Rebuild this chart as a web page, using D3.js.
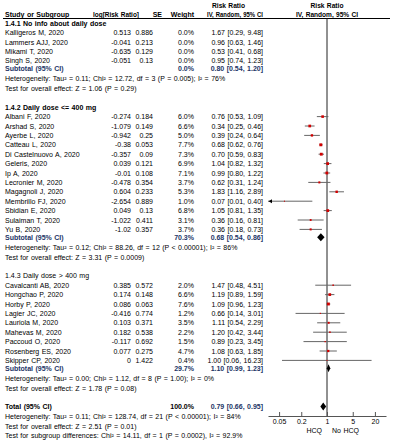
<!DOCTYPE html>
<html>
<head>
<meta charset="utf-8">
<script src="https://cdn.jsdelivr.net/npm/d3@7"></script>
<style>
  body { margin: 0; background: #fff; }
  text { font-family: "Liberation Sans", Arial, sans-serif; font-size: 7px; fill: #000; word-spacing: 0.5px; }
</style>
</head>
<body>
<div id="forest"></div>
<script>
// subgroup 1.4.1
const g1Names = ['Kalligeros M, 2020', 'Lammers AJJ, 2020', 'Mikami T, 2020', 'Singh S, 2020']
const g1LogRR = [0.513, -0.041, -0.635, -0.051]
const g1SE = [0.886, 0.213, 0.129, 0.13]
const g1Weight = [0, 0, 0, 0]
const g1RR = [1.67, 0.96, 0.53, 0.95]
const g1Lo = [0.29, 0.63, 0.41, 0.74]
const g1Hi = [9.48, 1.46, 0.68, 1.23]

// subgroup 1.4.2
const g2Names = ['Albani F, 2020', 'Arshad S, 2020', 'Ayerbe L, 2020', 'Catteau L, 2020', 'Di Castelnuovo A, 2020',
  'Geleris, 2020', 'Ip A, 2020', 'Lecronier M, 2020', 'Magagnoli J, 2020', 'Membrillo FJ, 2020',
  'Sbidian E, 2020', 'Sulaiman T, 2020', 'Yu B, 2020']
const g2LogRR = [-0.274, -1.079, -0.942, -0.38, -0.357, 0.039, -0.01, -0.478, 0.604, -2.654, 0.049, -1.022, -1.02]
const g2SE = [0.184, 0.149, 0.25, 0.053, 0.09, 0.121, 0.108, 0.354, 0.233, 0.889, 0.13, 0.411, 0.357]
const g2Weight = [6.0, 6.6, 5.0, 7.7, 7.3, 6.9, 7.1, 3.7, 5.3, 1.0, 6.8, 3.1, 3.7]
const g2RR = [0.76, 0.34, 0.39, 0.68, 0.70, 1.04, 0.99, 0.62, 1.83, 0.07, 1.05, 0.36, 0.36]
const g2Lo = [0.53, 0.25, 0.24, 0.62, 0.59, 0.82, 0.80, 0.31, 1.16, 0.01, 0.81, 0.16, 0.18]
const g2Hi = [1.09, 0.46, 0.64, 0.76, 0.83, 1.32, 1.22, 1.24, 2.89, 0.40, 1.35, 0.81, 0.73]

// subgroup 1.4.3
const g3Names = ['Cavalcanti AB, 2020', 'Hongchao P, 2020', 'Horby P, 2020', 'Lagier JC, 2020', 'Lauriola M, 2020',
  'Mahevas M, 2020', 'Paccoud O, 2020', 'Rosenberg ES, 2020', 'Skipper CP, 2020']
const g3LogRR = [0.385, 0.174, 0.086, -0.416, 0.103, 0.182, -0.117, 0.077, 0]
const g3SE = [0.572, 0.148, 0.063, 0.774, 0.371, 0.538, 0.692, 0.275, 1.422]
const g3Weight = [2.0, 6.6, 7.6, 1.2, 3.5, 2.2, 1.5, 4.7, 0.4]
const g3RR = [1.47, 1.19, 1.09, 0.66, 1.11, 1.20, 0.89, 1.08, 1.00]
const g3Lo = [0.48, 0.89, 0.96, 0.14, 0.54, 0.42, 0.23, 0.63, 0.06]
const g3Hi = [4.51, 1.59, 1.23, 3.01, 2.29, 3.44, 3.45, 1.85, 16.23]

const groupTitles = ['1.4.1 No info about daily dose', '1.4.2 Daily dose <= 400 mg', '1.4.3 Daily dose > 400 mg']
const subWeight = [0.0, 70.3, 29.7]
const subRR = [0.80, 0.68, 1.10]
const subLo = [0.54, 0.54, 0.99]
const subHi = [1.20, 0.86, 1.23]
const hetTexts = [
  'Heterogeneity: Tau² = 0.11; Chi² = 12.72, df = 3 (P = 0.005); I² = 76%',
  'Heterogeneity: Tau² = 0.12; Chi² = 88.26, df = 12 (P < 0.00001); I² = 86%',
  'Heterogeneity: Tau² = 0.00; Chi² = 1.12, df = 8 (P = 1.00); I² = 0%'
]
const zTexts = ['Z = 1.06 (P = 0.29)', 'Z = 3.31 (P = 0.0009)', 'Z = 1.78 (P = 0.08)']

const totalWeight = 100.0
const totalRR = 0.79, totalLo = 0.66, totalHi = 0.95
const totalHet = 'Heterogeneity: Tau² = 0.11; Chi² = 128.74, df = 21 (P < 0.00001); I² = 84%'
const totalZ = 'Test for overall effect: Z = 2.51 (P = 0.01)'
const subgroupTest = 'Test for subgroup differences: Chi² = 14.11, df = 1 (P = 0.0002), I² = 92.9%'

const tickValues = [0.05, 0.2, 1, 5, 20]
const favours = ['HCQ', 'No HCQ']

const groups = [
  { names: g1Names, logRR: g1LogRR, se: g1SE, weight: g1Weight, rr: g1RR, lo: g1Lo, hi: g1Hi },
  { names: g2Names, logRR: g2LogRR, se: g2SE, weight: g2Weight, rr: g2RR, lo: g2Lo, hi: g2Hi },
  { names: g3Names, logRR: g3LogRR, se: g3SE, weight: g3Weight, rr: g3RR, lo: g3Lo, hi: g3Hi }
]

let width = 393
let height = 440
let axisY = 416

let x = d3.scaleLog()
  .domain([0.025, 40])
  .range([268, 386])

let svg = d3.select('#forest')
  .append('svg')
  .attr('width', width)
  .attr('height', height)

let ciText = (r, l, h) => r.toFixed(2) + ' [' + l.toFixed(2) + ', ' + h.toFixed(2) + ']'
let pct = w => w.toFixed(1) + '%'

let txt = (s, tx, ty, anchor, bold, color) => svg.append('text')
  .attr('x', tx)
  .attr('y', ty + 2.5)
  .attr('text-anchor', anchor || 'start')
  .attr('font-weight', bold ? 'bold' : 'normal')
  .style('fill', color || '#000')
  .text(s)

// header (bold headers are squeezed a bit to fit their columns)
txt('Risk Ratio', 228.5, 5, 'middle', true).attr('textLength', 33).attr('lengthAdjust', 'spacingAndGlyphs')
txt('Risk Ratio', x(1), 5, 'middle', true).attr('textLength', 33).attr('lengthAdjust', 'spacingAndGlyphs')
txt('Study or Subgroup', 5, 14, 'start', true)
txt('log[Risk Ratio]', 139, 14, 'end', true).attr('textLength', 46).attr('lengthAdjust', 'spacingAndGlyphs')
txt('SE', 162, 14, 'end', true)
txt('Weight', 194, 14, 'end', true)
txt('IV, Random, 95% CI', 263, 14, 'end', true).attr('textLength', 56).attr('lengthAdjust', 'spacingAndGlyphs')
txt('IV, Random, 95% CI', x(1), 14, 'middle', true).attr('textLength', 62).attr('lengthAdjust', 'spacingAndGlyphs')
svg.append('line')
  .attr('x1', 3).attr('x2', 390)
  .attr('y1', 18.5).attr('y2', 18.5)
  .attr('stroke', '#000')
  .attr('stroke-width', 1)

// null line
svg.append('line')
  .attr('x1', x(1)).attr('x2', x(1))
  .attr('y1', 18.5).attr('y2', axisY)
  .attr('stroke', '#222')
  .attr('stroke-width', 1)

let diamond = (r, l, h, cy) => {
  let p = [[x(l), cy], [x(r), cy - 4], [x(h), cy], [x(r), cy + 4]]
  svg.append('path')
    .attr('d', d3.line()(p) + 'Z')
    .attr('fill', '#000')
}

let navy = '#1d3566'
let y = 23
groups.forEach((g, gi) => {
  txt(groupTitles[gi], 5, y, 'start', gi < 2)
  y += 9.6
  g.names.forEach((n, i) => {
    txt(n, 5, y)
    txt(String(g.logRR[i]), 131, y, 'end')
    txt(String(g.se[i]), 153, y, 'end')
    txt(pct(g.weight[i]), 194, y, 'end')
    txt(ciText(g.rr[i], g.lo[i], g.hi[i]), 263, y, 'end')
    if (g.weight[i] > 0) {
      let [d0, d1] = x.domain()
      let lo = Math.max(g.lo[i], d0)
      let hi = Math.min(g.hi[i], d1)
      svg.append('line')
        .attr('x1', x(lo)).attr('x2', x(hi))
        .attr('y1', y).attr('y2', y)
        .attr('stroke', '#666')
        .attr('stroke-width', 1)
      if (g.lo[i] < d0) {
        svg.append('path')
          .attr('d', d3.line()([[x(d0) + 0.5, y], [x(d0) + 4, y - 2], [x(d0) + 4, y + 2]]) + 'Z')
          .attr('fill', '#000')
      }
      let s = Math.max(1, Math.sqrt(g.weight[i]) * 1.05)
      svg.append('rect')
        .attr('x', x(g.rr[i]) - s / 2)
        .attr('y', y - s / 2)
        .attr('width', s)
        .attr('height', s)
        .attr('fill', '#d00000')
    }
    if (i < g.names.length - 1) y += 9.4
  })
  y += 7.8
  txt('Subtotal (95% CI)', 5, y, 'start', true, navy)
  txt(pct(subWeight[gi]), 194, y, 'end', true, navy)
  txt(ciText(subRR[gi], subLo[gi], subHi[gi]), 263, y, 'end', true, navy)
  if (subWeight[gi] > 0) diamond(subRR[gi], subLo[gi], subHi[gi], y)
  y += 10
  txt(hetTexts[gi], 5, y)
  y += 9.8
  txt('Test for overall effect: ' + zTexts[gi], 5, y)
  y += 18.6
})

// total
txt('Total (95% CI)', 5, y, 'start', true)
txt(pct(totalWeight), 194, y, 'end', true)
txt(ciText(totalRR, totalLo, totalHi), 263, y, 'end', true, navy)
diamond(totalRR, totalLo, totalHi, y)
y += 10
txt(totalHet, 5, y)
y += 9.6
txt(totalZ, 5, y)
y += 9.6
txt(subgroupTest, 5, y)

// axis
let axis = svg.append('g')
  .attr('transform', 'translate(0, ' + axisY + ')')
  .call(d3.axisBottom(x)
    .tickValues(tickValues)
    .tickFormat(d => d)
    .tickSizeInner(-4)
    .tickSizeOuter(0)
    .tickPadding(3))
axis.select('.domain').attr('stroke', '#555')
axis.selectAll('.tick line').attr('stroke', '#555')
axis.selectAll('.tick text')
  .attr('font-family', null)
  .attr('font-size', null)
  .style('fill', '#000')

txt(favours[0], x(1) - 5, axisY + 14.5, 'end')
txt(favours[1], x(1) + 5, axisY + 14.5, 'start')
</script>
</body>
</html>
